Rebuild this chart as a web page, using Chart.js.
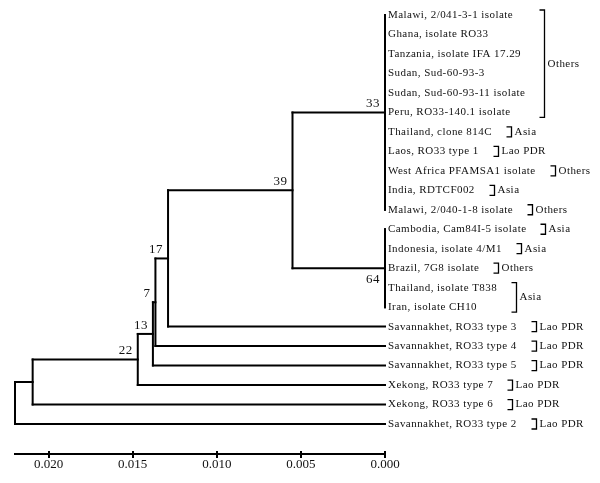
<!DOCTYPE html>
<html><head><meta charset="utf-8">
<script src="https://cdn.jsdelivr.net/npm/chart.js@4/dist/chart.umd.min.js"></script>
<style>html,body{margin:0;padding:0;background:#fff}canvas{display:block}</style>
</head><body>
<canvas id="c" width="600" height="483"></canvas>
<script>
// ---- data ----
const leafNames = [
  "Malawi, 2/041-3-1 isolate","Ghana, isolate RO33","Tanzania, isolate IFA 17.29",
  "Sudan, Sud-60-93-3","Sudan, Sud-60-93-11 isolate","Peru, RO33-140.1 isolate",
  "Thailand, clone 814C","Laos, RO33 type 1","West Africa PFAMSA1 isolate",
  "India, RDTCF002","Malawi, 2/040-1-8 isolate","Cambodia, Cam84I-5 isolate",
  "Indonesia, isolate 4/M1","Brazil, 7G8 isolate","Thailand, isolate T838",
  "Iran, isolate CH10","Savannakhet, RO33 type 3","Savannakhet, RO33 type 4",
  "Savannakhet, RO33 type 5","Xekong, RO33 type 7","Xekong, RO33 type 6",
  "Savannakhet, RO33 type 2"
];
const groupLabels = ["Others","Asia","Lao PDR","Others","Asia","Others","Asia","Asia","Others","Asia","Lao PDR","Lao PDR","Lao PDR","Lao PDR","Lao PDR","Lao PDR"];
const groupFirst  = [0,6,7,8,9,10,11,12,13,14,16,17,18,19,20,21];
const groupLast   = [5,6,7,8,9,10,11,12,13,15,16,17,18,19,20,21];

const nodeSupport  = ["33","64","39","17","7","13","22","",""];
const nodeDistance = [0, 0, 0.0055, 0.0129, 0.01365, 0.0138, 0.0147, 0.02095, 0.0220];
const nodeChildren = [
  ["L0","L1","L2","L3","L4","L5","L6","L7","L8","L9","L10"],
  ["L11","L12","L13","L14","L15"],
  ["N0","N1"],
  ["N2","L16"],
  ["N3","L17"],
  ["N4","L18"],
  ["N5","L19"],
  ["N6","L20"],
  ["N7","L21"]
];
const tickValues = [0.020, 0.015, 0.010, 0.005, 0.000];
const axisMax = 0.0220;

// ---- tree geometry (in data units) ----
function height(id){ return id[0]==='L' ? 0 : nodeDistance[+id.slice(1)]; }
function rowOf(id){
  if (id[0]==='L') return +id.slice(1);
  const ch = nodeChildren[+id.slice(1)];
  return (rowOf(ch[0]) + rowOf(ch[ch.length-1]))/2;
}
const segments = [];
nodeChildren.forEach((ch,i)=>{
  const h = nodeDistance[i];
  segments.push([{x:h,y:rowOf(ch[0])},{x:h,y:rowOf(ch[ch.length-1])}]);
  ch.forEach(c=>{ segments.push([{x:h,y:rowOf(c)},{x:height(c),y:rowOf(c)}]); });
});
const belowLabels = new Set(["64"]);
const SERIF = '"Liberation Serif","Times New Roman",serif';

const treeText = {
  id:'treeText',
  afterDraw(chart){
    const ctx = chart.ctx, xs = chart.scales.x, ys = chart.scales.y;
    ctx.save();
    // axis tick marks crossing the axis line
    ctx.strokeStyle='#000'; ctx.lineWidth=2;
    const ay = chart.chartArea.bottom;
    tickValues.forEach(v=>{
      const px = Math.round(xs.getPixelForValue(v));
      ctx.beginPath(); ctx.moveTo(px, ay-3); ctx.lineTo(px, ay+4); ctx.stroke();
    });
    // leaf labels
    const x0 = xs.getPixelForValue(0);
    ctx.fillStyle='#111';
    ctx.font = '11px ' + SERIF;
    try{ ctx.letterSpacing='0.45px'; }catch(e){}
    ctx.textAlign='left'; ctx.textBaseline='middle';
    leafNames.forEach((n,i)=>ctx.fillText(n, x0+3, ys.getPixelForValue(i)));
    // group brackets
    ctx.lineWidth=1.3;
    groupLabels.forEach((g,k)=>{
      let w=0;
      for(let r=groupFirst[k]; r<=groupLast[k]; r++) w=Math.max(w, ctx.measureText(leafNames[r]).width);
      const bx = Math.round(x0+3+w+19)+0.5;
      const yT = ys.getPixelForValue(groupFirst[k])-5, yB = ys.getPixelForValue(groupLast[k])+5;
      ctx.beginPath(); ctx.moveTo(bx-5,yT); ctx.lineTo(bx,yT); ctx.lineTo(bx,yB); ctx.lineTo(bx-5,yB); ctx.stroke();
      ctx.fillText(g, bx+3, (yT+yB)/2);
    });
    // support values
    ctx.font = '13px ' + SERIF;
    try{ ctx.letterSpacing='0.5px'; }catch(e){}
    ctx.textAlign='right';
    nodeSupport.forEach((s,i)=>{
      if(!s) return;
      const px = xs.getPixelForValue(nodeDistance[i]);
      const py = ys.getPixelForValue(rowOf('N'+i));
      if (belowLabels.has(s)) { ctx.textBaseline='top'; ctx.fillText(s, px-5, py+5); }
      else { ctx.textBaseline='alphabetic'; ctx.fillText(s, px-5, py-5); }
    });
    ctx.restore();
  }
};

new Chart(document.getElementById('c'), {
  type:'scatter',
  data:{ datasets: segments.map(seg=>({
    data: seg, showLine:true, borderColor:'#000', borderWidth:2,
    pointRadius:0, pointHoverRadius:0, borderCapStyle:'square', clip:false, tension:0
  }))},
  options:{
    responsive:false, animation:false, devicePixelRatio:1,
    layout:{ padding:{ left:15, right:215, top:0, bottom:0 } },
    plugins:{ legend:{display:false}, tooltip:{enabled:false} },
    events:[],
    scales:{
      x:{ type:'linear', min:0, max:axisMax, reverse:true,
          afterBuildTicks(s){ s.ticks = tickValues.map(v=>({value:v})); },
          afterFit(s){ s.height = 29; },
          grid:{ display:true, drawOnChartArea:false, drawTicks:false, color:'rgba(0,0,0,0)' },
          border:{ display:true, color:'#000', width:2 },
          ticks:{ color:'#111', padding:3, maxRotation:0, autoSkip:false,
                  font:{ family:SERIF, size:13 },
                  callback:(v)=>Number(v).toFixed(3) } },
      y:{ type:'linear', display:false, reverse:true, min:-0.77, max:22.54 }
    }
  },
  plugins:[treeText]
});
</script>
</body></html>
